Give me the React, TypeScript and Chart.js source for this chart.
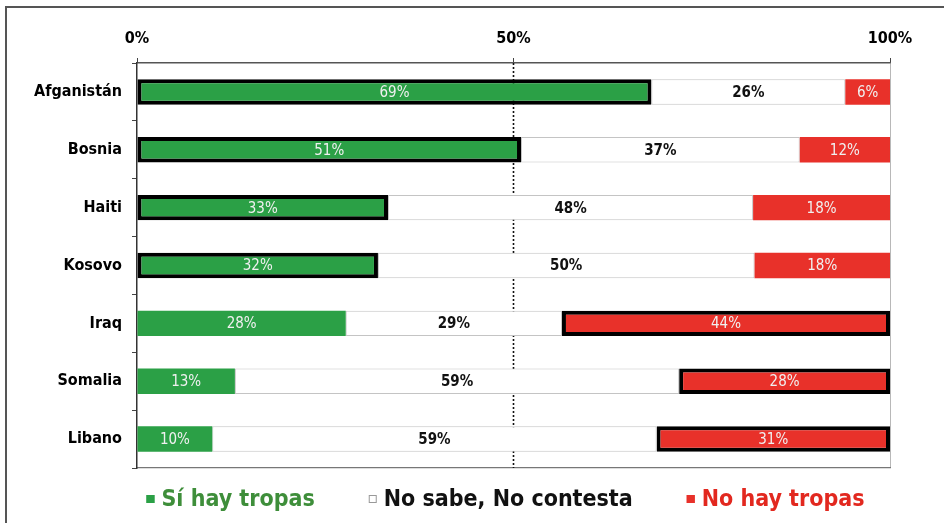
import React, { useEffect, useRef } from "react";
import { Chart, registerables } from "chart.js";

Chart.register(...registerables);

const categories = ["Afganistán", "Bosnia", "Haiti", "Kosovo", "Iraq", "Somalia", "Libano"];
const siHayTropas = [69, 51, 33, 32, 28, 13, 10];
const noSabe = [26, 37, 48, 50, 29, 59, 59];
const noHayTropas = [6, 12, 18, 18, 44, 28, 31];
const seriesLabels = ["Sí hay tropas", "No sabe, No contesta", "No hay tropas"];
const tickLabels: Record<number, string> = { 0: "0%", 50: "50%", 100: "100%" };
// rows whose "Sí" bar is outlined vs rows whose "No" bar is outlined
const outlinedSi = [true, true, true, true, false, false, false];
const outlinedNo = [false, false, false, false, true, true, true];

const FONT = "'Liberation Sans Narrow', 'Arial Narrow', 'DejaVu Sans Condensed', sans-serif";
const GREEN = "#2ba046";
const RED = "#e8312a";
const LEGEND_TEXT = ["#3e8e3a", "#111111", "#e2281f"];
const LEGEND_FILL = [GREEN, "#ffffff", RED];
const LEGEND_STROKE = [GREEN, "#999999", RED];

const totals = categories.map((_, i) => siHayTropas[i] + noSabe[i] + noHayTropas[i]);
const norm = (arr: number[]) => arr.map((v, i) => (v / totals[i]) * 100);
const rawByDataset = [siHayTropas, noSabe, noHayTropas];

const framePlugin = {
  id: "frame",
  beforeDraw(chart: any) {
    const { ctx, width, height } = chart;
    ctx.save();
    ctx.fillStyle = "#fff";
    ctx.fillRect(0, 0, width, height);
    ctx.strokeStyle = "#555";
    ctx.lineWidth = 2;
    ctx.beginPath();
    ctx.moveTo(6, height);
    ctx.lineTo(6, 7);
    ctx.lineTo(width, 7);
    ctx.stroke();
    ctx.restore();
  },
};

const midLinePlugin = {
  id: "midLine",
  beforeDatasetsDraw(chart: any) {
    const { ctx, chartArea, scales } = chart;
    const x = scales.x.getPixelForValue(50);
    ctx.save();
    ctx.strokeStyle = "#111";
    ctx.lineWidth = 1.6;
    ctx.setLineDash([2, 2]);
    ctx.beginPath();
    ctx.moveTo(x, chartArea.top);
    ctx.lineTo(x, chartArea.bottom);
    ctx.stroke();
    ctx.restore();
  },
};

const valueLabelPlugin = {
  id: "valueLabels",
  afterDatasetsDraw(chart: any) {
    const { ctx } = chart;
    ctx.save();
    ctx.textAlign = "center";
    ctx.textBaseline = "middle";
    chart.data.datasets.forEach((ds: any, di: number) => {
      const meta = chart.getDatasetMeta(di);
      meta.data.forEach((bar: any, i: number) => {
        const cx = (bar.x + bar.base) / 2;
        if (di === 1) {
          ctx.font = `bold 15px ${FONT}`;
          ctx.fillStyle = "#111";
        } else {
          ctx.font = `15px ${FONT}`;
          ctx.fillStyle = "#f0f0f0";
        }
        ctx.fillText(rawByDataset[di][i] + "%", cx, bar.y + 1);
      });
    });
    ctx.restore();
  },
};

const customLegendPlugin = {
  id: "customLegend",
  afterDraw(chart: any) {
    const { ctx, chartArea } = chart;
    ctx.save();
    ctx.font = `bold 23px ${FONT}`;
    ctx.textBaseline = "middle";
    const box = 8;
    const gapBoxText = 7;
    const spacing = 54;
    const widths = seriesLabels.map((t) => box + gapBoxText + ctx.measureText(t).width);
    const total = widths.reduce((a, b) => a + b, 0) + spacing * (widths.length - 1);
    let x = (chartArea.left + chartArea.right) / 2 - 8 - total / 2;
    const y = chartArea.bottom + 31;
    seriesLabels.forEach((t, i) => {
      ctx.fillStyle = LEGEND_FILL[i];
      ctx.fillRect(x, y - box / 2, box, box);
      ctx.strokeStyle = LEGEND_STROKE[i];
      ctx.lineWidth = 1;
      ctx.strokeRect(x + 0.5, y - box / 2 + 0.5, box - 1, box - 1);
      ctx.fillStyle = LEGEND_TEXT[i];
      ctx.textAlign = "left";
      ctx.fillText(t, x + box + gapBoxText, y + 1);
      x += widths[i] + spacing;
    });
    ctx.restore();
  },
};

export default function App() {
  const ref = useRef<HTMLCanvasElement | null>(null);
  useEffect(() => {
    if (!ref.current) return;
    const chart = new Chart(ref.current, {
      type: "bar",
      data: {
        labels: categories,
        datasets: [
          {
            label: seriesLabels[0],
            data: norm(siHayTropas),
            backgroundColor: GREEN,
            borderColor: "#000",
            borderWidth: (c: any) => (outlinedSi[c.dataIndex] ? 4 : 0),
            borderSkipped: false,
          },
          {
            label: seriesLabels[1],
            data: norm(noSabe),
            backgroundColor: "#ffffff",
            borderColor: "#c4c4c4",
            borderWidth: 1,
            borderSkipped: false,
          },
          {
            label: seriesLabels[2],
            data: norm(noHayTropas),
            backgroundColor: RED,
            borderColor: "#000",
            borderWidth: (c: any) => (outlinedNo[c.dataIndex] ? 4 : 0),
            borderSkipped: false,
          },
        ] as any,
      },
      options: {
        indexAxis: "y",
        animation: false,
        responsive: false,
        maintainAspectRatio: false,
        layout: { padding: { left: 0, right: 54, top: 8, bottom: 55 } },
        datasets: { bar: { categoryPercentage: 1, barPercentage: 0.44 } },
        scales: {
          x: {
            position: "top",
            stacked: true,
            min: 0,
            max: 100,
            ticks: {
              stepSize: 50,
              padding: 10,
              color: "#000",
              font: { family: FONT, size: 16, weight: "bold" },
              callback: (v: any) => tickLabels[v] ?? "",
            },
            grid: {
              color: (c: any) => (c.tick && c.tick.value === 100 ? "#b8b8b8" : "rgba(0,0,0,0)"),
              tickColor: "#444",
              tickLength: 5,
              lineWidth: 1,
            },
            border: { display: true, color: "#555", width: 1.5 },
            afterFit: (s: any) => {
              s.height = 55;
            },
          },
          x2: {
            position: "bottom",
            type: "linear",
            min: 0,
            max: 100,
            ticks: { display: false },
            grid: { display: false, drawTicks: false },
            border: { display: true, color: "#777", width: 1.2 },
            afterFit: (s: any) => {
              s.height = 0;
            },
          },
          y: {
            stacked: true,
            ticks: {
              padding: 10,
              color: "#000",
              font: { family: FONT, size: 16, weight: "bold" },
            },
            grid: {
              offset: true,
              drawOnChartArea: false,
              color: "#444",
              tickLength: 5,
            },
            border: { display: true, color: "#333", width: 1.5 },
            afterFit: (s: any) => {
              s.width = 137;
            },
          },
        },
        plugins: {
          legend: { display: false },
          tooltip: { enabled: false },
        },
      } as any,
      plugins: [framePlugin, midLinePlugin, valueLabelPlugin, customLegendPlugin],
    });
    return () => chart.destroy();
  }, []);

  return (
    <div
      style={{
        position: "fixed",
        left: 0,
        top: 0,
        width: 944,
        height: 523,
        background: "#fff",
        overflow: "hidden",
      }}
    >
      <canvas ref={ref} width={944} height={523} style={{ position: "absolute", left: 0, top: 0, display: "block" }} />
    </div>
  );
}
